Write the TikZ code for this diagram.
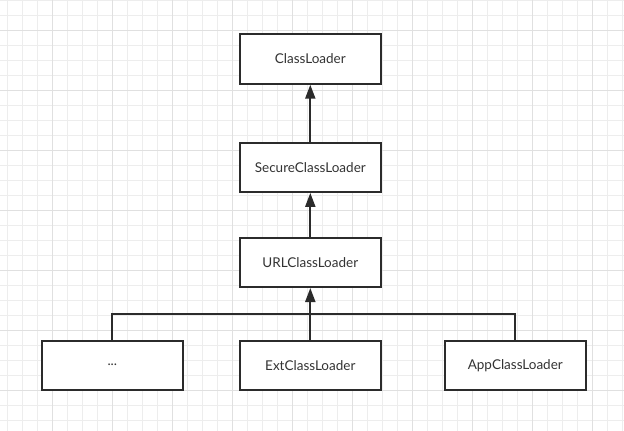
\documentclass[tikz,border=0pt]{standalone}
\usepackage{fontspec}
\setmainfont{Lato}
\usetikzlibrary{arrows.meta}
\definecolor{ink}{HTML}{2B2B2B}
\definecolor{txt}{HTML}{333333}
\definecolor{gminor}{HTML}{EDEDED}
\definecolor{gmajor}{HTML}{E0E0E0}
\tikzset{
  box/.style={draw=ink, line width=2pt, fill=white, minimum width=141.3pt, minimum height=49.4pt,
    inner sep=0pt, text=txt, font=\fontsize{13.5pt}{16pt}\selectfont},
  link/.style={draw=ink, line width=2pt},
  arr/.style={link, -{Triangle[length=14pt, width=10pt]}},
}
\begin{document}
\begin{tikzpicture}[x=1pt, y=-1pt]
\useasboundingbox (0,0) rectangle (624,431);
\fill[white] (0,0) rectangle (624,431);
% grid
\foreach \i in {0,...,41} {
  \draw[gminor, line width=0.8pt] ({7.3+15*\i},0) -- ({7.3+15*\i},431);
}
\foreach \j in {0,...,29} {
  \draw[gminor, line width=0.8pt] (0,{15*\j}) -- (624,{15*\j});
}
\foreach \i in {0,...,10} {
  \draw[gmajor, line width=1pt] ({52.3+60*\i},0) -- ({52.3+60*\i},431);
}
\foreach \j in {0,...,7} {
  \draw[gmajor, line width=1pt] (0,{30+60*\j}) -- (624,{30+60*\j});
}
% nodes
\node[box] (cl) at (310.3,59) {ClassLoader};
\node[box] (scl) at (310.3,167.2) {SecureClassLoader};
\node[box] (ucl) at (310.3,262.3) {URLClassLoader};
\node[box] (dots) at (112.3,365.2) {...};
\node[box] (ext) at (310.3,365.2) {ExtClassLoader};
\node[box] (app) at (515.3,365.2) {AppClassLoader};
\coordinate (busl) at (112.3,314.3);
\coordinate (busr) at (515.3,314.3);
% connectors
\draw[arr] (scl.north) -- (cl.south);
\draw[arr] (ucl.north) -- (scl.south);
\draw[arr] (ext.north) -- (ucl.south);
\draw[link] (dots.north) -- (busl) -- (busr) -- (app.north);
\end{tikzpicture}
\end{document}
